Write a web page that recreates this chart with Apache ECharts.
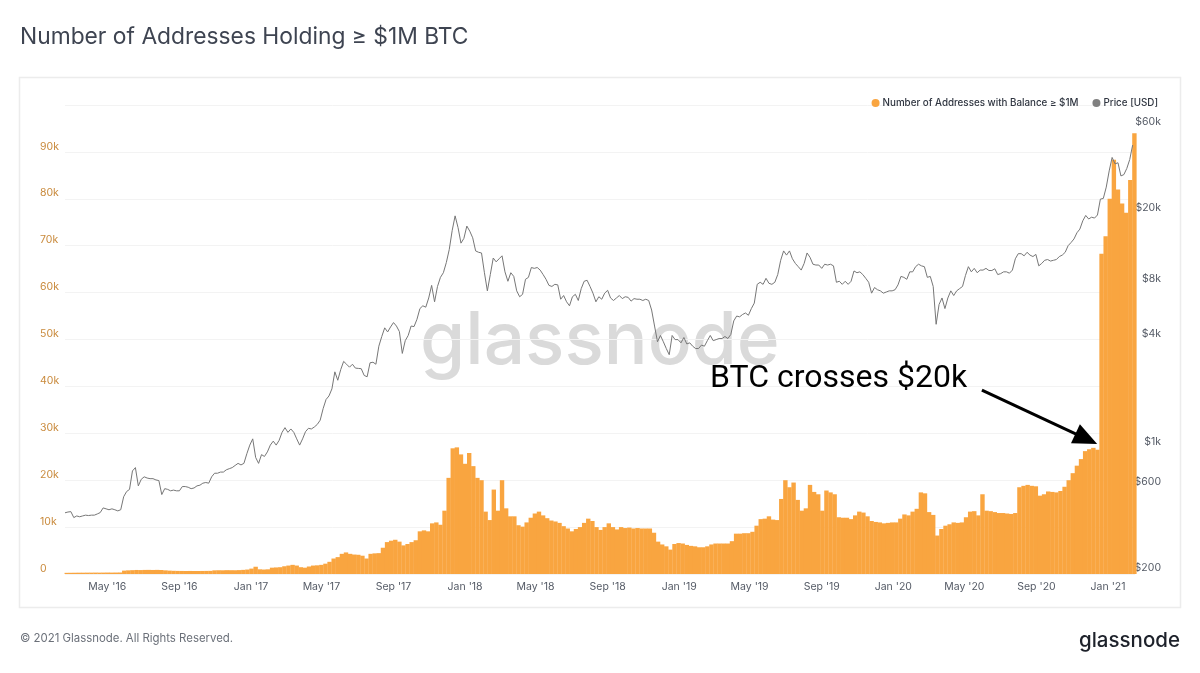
<!DOCTYPE html>
<html><head><meta charset="utf-8">
<style>html,body{margin:0;padding:0;background:#fff}#c{width:1200px;height:673px}</style>
<script src="https://cdn.jsdelivr.net/npm/echarts@6/dist/echarts.min.js"></script>
</head><body><div id="c"></div>
<script>
const titleText = 'Number of Addresses Holding ≥ $1M BTC';
const seriesAddr = 'Number of Addresses with Balance ≥ $1M';
const seriesPrice = 'Price [USD]';
const axisStart = '2016-02-19';
const axisEnd = '2021-02-16';
const barFirstDate = '2016-02-22';
const priceFirstDate = '2016-02-19';
const xTicks = ['2016-05-01','2016-09-01','2017-01-01','2017-05-01','2017-09-01','2018-01-01','2018-05-01','2018-09-01','2019-01-01','2019-05-01','2019-09-01','2020-01-01','2020-05-01','2020-09-01','2021-01-01'];
const xTickLabels = ["May '16","Sep '16","Jan '17","May '17","Sep '17","Jan '18","May '18","Sep '18","Jan '19","May '19","Sep '19","Jan '20","May '20","Sep '20","Jan '21"];
const priceTicks = [200,600,1000,4000,8000,20000,60000];
const priceTickLabels = ['$200','$600','$1k','$4k','$8k','$20k','$60k'];
// weekly address counts
const addresses = [
250,260,270,280,280,290,290,300,290,300,310,300,310,320,
720,780,820,860,840,870,880,860,880,850,
780,720,680,660,650,640,650,640,640,650,660,670,
780,800,790,820,810,800,830,880,950,1150,1550,1000,950,1000,
1350,1400,1450,1650,1800,1950,1800,1450,1350,1600,1800,1850,1950,
2200,2600,3300,3600,4300,4600,4300,4150,4100,3900,3300,4300,4400,4450,
5600,6800,7100,7300,6900,6100,6400,6800,7200,9100,9300,9100,10800,11000,10500,
13500,20500,26800,27000,25500,23500,25800,23000,20500,20000,13300,11500,18000,13500,20000,14000,
12300,12300,10400,10100,11000,12000,12900,13300,12500,11900,11400,11200,10900,10200,9700,9100,
9600,10000,10900,11800,11300,10000,9400,10000,10800,10000,9500,10000,9800,9900,9700,9800,9700,9700,9700,
8800,6900,6300,5900,5200,6400,6600,6500,6200,6000,5900,5700,5700,5900,6300,6500,6500,6500,6500,7000,
8600,8600,8700,8700,9000,10300,11700,11800,12300,11600,11500,
16000,20000,18500,19500,15800,13500,14000,19000,17500,17000,13500,17800,17400,17000,
12100,12000,12000,11700,12500,13300,13100,12300,11300,11100,11000,10800,10900,11000,11000,11800,12700,12500,13300,13900,
17400,17200,13200,12600,8200,9600,10300,10600,11000,10900,11000,12100,13300,13400,12500,17000,13500,13400,13200,13000,13000,12900,12800,13000,
18500,18800,19000,18800,18700,16700,17000,17600,17500,17400,17700,18600,20000,21500,23100,24500,26200,26600,26900,26500,
68300,72000,80000,88300,82000,79000,77000,84000,94000];
// price every five days
const price = [
404,408,410,380,388,384,388,392,390,392,392,398,405,430,425,420,425,420,414,420,496,530,545,690,720,570,620,640,630,625,625,615,610,510,550,545,535,540,535,535,565,565,560,550,555,570,575,590,595,590,640,670,670,680,680,700,710,720,740,760,745,760,860,960,
1040,820,760,850,830,880,960,1010,960,1020,1130,1200,1130,1180,1130,1040,960,1040,1140,1190,1180,1210,1250,1320,1530,1720,1800,1970,2450,2200,2520,2800,2700,2600,2700,2570,2560,2550,2340,2300,2750,2770,2700,3400,3850,4300,4080,4350,4600,4400,4100,3100,3650,3900,4400,4370,4800,5500,5700,5600,6300,7400,6000,7300,8200,8700,9900,11700,14900,18000,15500,12700,13500,
15800,14800,13600,11500,11300,11200,8700,6900,8500,10500,10000,10400,10800,8800,7800,8700,8300,6900,6400,6600,8000,8200,9300,9200,9300,9000,8500,8000,7400,7300,7500,7450,6200,6500,6000,5700,6400,6600,6100,7100,7800,7900,7300,6700,6000,6400,6200,6700,6950,6300,6100,6300,6500,6250,6400,6350,6050,6250,6200,6200,6100,6200,6100,5400,4400,3600,3900,3600,3300,3050,3900,3700,3700,
3550,3800,3500,3550,3400,3300,3300,3450,3400,3650,3900,3650,3700,3750,3750,3850,3750,3950,4700,5000,4950,5100,5200,5050,5500,5900,7500,7700,7500,8100,7600,7500,7700,8500,10200,11500,10900,11500,10400,9800,9400,9000,9800,11200,10600,9700,9600,9600,9200,9700,9600,9700,9500,7700,7800,7500,7800,7500,7800,8900,8700,8800,8500,8100,7700,6700,7200,7000,6900,6700,6800,6900,6900,
7000,7450,8300,8200,8000,8800,8800,9400,9700,9500,9400,8200,8300,7300,4500,5800,6300,5500,6300,6900,6500,6900,7100,7300,8400,9400,8800,9200,8700,9000,9000,9200,8950,8950,9150,8500,8600,8800,8800,8650,9000,10400,11100,11100,10800,11300,10900,10700,11000,9500,9800,10200,10300,10100,10200,10300,10700,10900,11300,12300,12800,13400,14500,15200,16900,18100,17300,17700,17500,18200,22300,22500,26000,
32000,38000,35000,35500,30000,30500,33000,37000,44500];
const arrowFrom = ['2020-05-31', 39200];
const arrowTo = ['2020-11-25', 28800];

const DAY = 86400000;
const ts = s => +new Date(s + 'T00:00:00Z');
const barStart = ts(barFirstDate);
const priceStart = ts(priceFirstDate);
const addrData = addresses.map((v, i) => [barStart + i * 7 * DAY, v]);
const priceData = price.map((v, i) => [priceStart + i * 5 * DAY, v]);
const tickTs = xTicks.map(ts);

const chart = echarts.init(document.getElementById('c'), null, {renderer: 'canvas'});
chart.setOption({
  animation: false,
  backgroundColor: '#fff',
  textStyle: {fontFamily: 'Inter'},
  title: {text: titleText, left: 15, top: 21,
    textStyle: {fontFamily: 'Inter', fontSize: 22.8, fontWeight: 400, color: '#3e4451'}},
  legend: {right: 37, top: 93, itemWidth: 8, itemHeight: 8, itemGap: 14, icon: 'circle',
    textStyle: {fontFamily: 'Inter', fontSize: 9.8, fontWeight: 500, color: '#2f3540', padding: [0,0,0,-2]},
    data: [seriesAddr, seriesPrice]},
  grid: {left: 65, right: 65, top: 105, bottom: 99},
  xAxis: {type: 'value', min: ts(axisStart), max: ts(axisEnd), scale: true,
    axisLine: {show: false}, axisTick: {show: false}, splitLine: {show: false},
    axisLabel: {customValues: tickTs, hideOverlap: false, showMinLabel: true, showMaxLabel: true, margin: 7, fontFamily: 'Inter', fontSize: 10.5, color: '#555b66',
      formatter: v => xTickLabels[tickTs.indexOf(+v)] || ''}},
  yAxis: [
    {type: 'value', min: 0, max: 100000, interval: 10000, position: 'left',
     axisLine: {show: false}, axisTick: {show: false},
     splitLine: {lineStyle: {color: '#f3f3f3', width: 1}},
     axisLabel: {align: 'left', verticalAlign: 'bottom', margin: 25, fontFamily: 'Inter', fontSize: 10.5, color: '#c98a3c',
       formatter: v => v === 100000 ? '' : v === 0 ? '0' : (v / 1000) + 'k'}},
    {type: 'log', logBase: 10, min: 184.7, max: 74300, position: 'right',
     axisLine: {show: false}, axisTick: {show: false}, splitLine: {show: false},
     axisLabel: {customValues: priceTicks, align: 'right', margin: 26, padding: [2,0,0,0], fontFamily: 'Inter', fontSize: 10.5, color: '#555b66',
       formatter: v => { const k = priceTicks.findIndex(t => Math.abs(t - v) < t * 0.01); return k < 0 ? '' : priceTickLabels[k]; }}}
  ],
  series: [
    {name: seriesAddr, type: 'bar', yAxisIndex: 0, data: addrData, barWidth: 4.4,
     itemStyle: {color: '#f9a540'}, z: 2,
     markLine: {silent: true, animation: false, symbol: ['none', 'triangle'], symbolSize: [21, 24],
       lineStyle: {color: '#000', width: 3, type: 'solid'}, label: {show: false},
       data: [[{coord: [ts(arrowFrom[0]), arrowFrom[1]]}, {coord: [ts(arrowTo[0]), arrowTo[1]]}]]}},
    {name: seriesPrice, type: 'line', yAxisIndex: 1, data: priceData, showSymbol: false, symbol: 'circle',
     lineStyle: {color: '#777', width: 1}, itemStyle: {color: '#808080'}, z: 3}
  ],
  graphic: [
    {type: 'rect', z: -20, silent: true, shape: {x: 19.5, y: 77.5, width: 1161, height: 530}, style: {fill: '#fff', stroke: '#ececec', lineWidth: 1.5}},
    {type: 'text', z: -10, silent: true, left: 420, top: 306, style: {text: 'glassnode', font: '500 73px Inter', fill: '#dadada'}},
    {type: 'text', z: 50, silent: true, left: 710, top: 363, style: {text: 'BTC crosses $20k', font: '400 32px Roboto', fill: '#000'}},
    {type: 'text', z: 50, silent: true, left: 20, top: 633, style: {text: '© 2021 Glassnode. All Rights Reserved.', font: '400 11.4px Inter', fill: '#6b7079'}},
    {type: 'text', z: 50, silent: true, right: 20, top: 630, style: {text: 'glassnode', font: '500 20.5px Inter', fill: '#1e222b'}}
  ]
});
</script></body></html>
